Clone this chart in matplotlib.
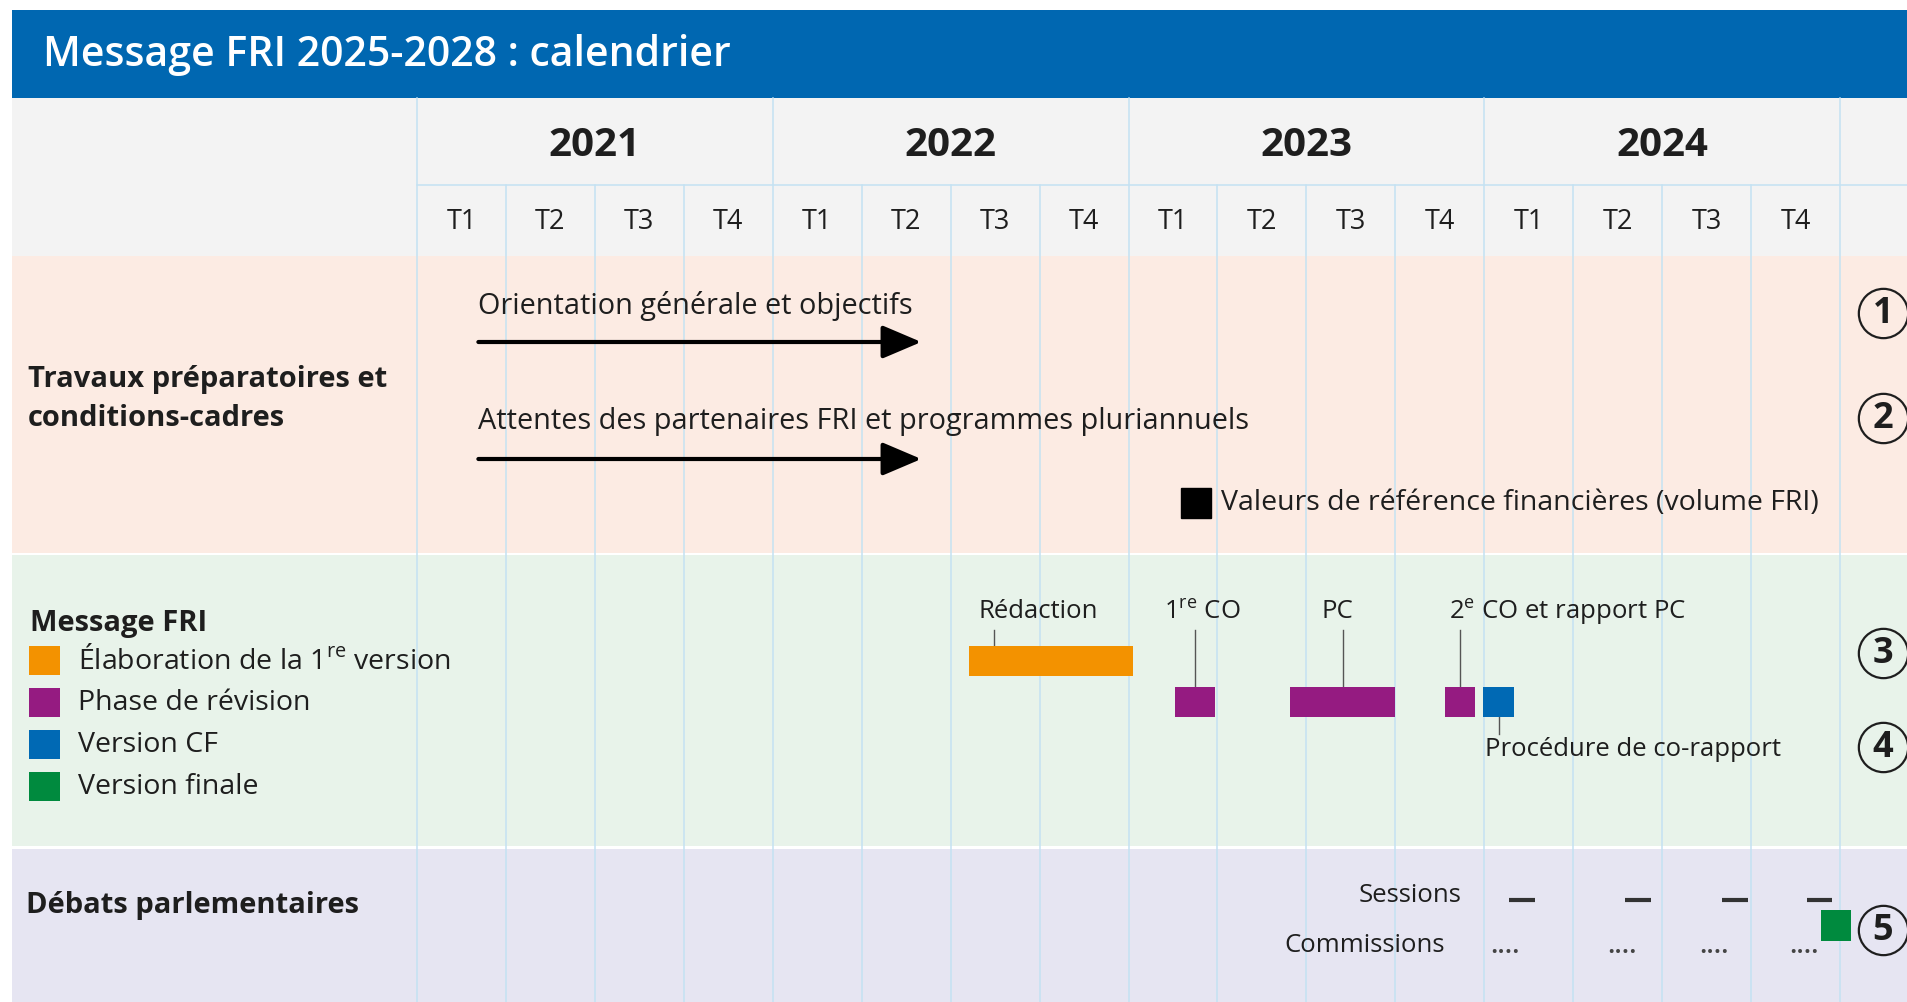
import matplotlib
matplotlib.use('Agg')
import matplotlib.pyplot as plt
from matplotlib.patches import Rectangle

plt.rcParams['font.family'] = ['Open Sans', 'DejaVu Sans']
plt.rcParams['mathtext.fontset'] = 'custom'
plt.rcParams['mathtext.rm'] = 'Open Sans'
plt.rcParams['mathtext.bf'] = 'Open Sans:bold'

# ---- data (x in quarters from 2021 T1) ----
title = 'Message FRI 2025-2028 : calendrier'
years = [2021, 2022, 2023, 2024]
quarters = ['T1', 'T2', 'T3', 'T4']

section_labels = ['Travaux préparatoires et\nconditions-cadres', 'Message FRI', 'Débats parlementaires']

arrow_labels = ['Orientation générale et objectifs',
                'Attentes des partenaires FRI et programmes pluriannuels']
arrow_start = [0.69, 0.69]
arrow_end = [5.67, 5.67]

ref_label = 'Valeurs de référence financières (volume FRI)'
ref_pos = 8.76

phase_names = ['Élaboration de la 1$^{\\mathrm{re}}$ version', 'Phase de révision',
               'Version CF', 'Version finale']
phase_colors = ['#f39200', '#951b81', '#0069b4', '#008a3e']

bar_start = [6.21, 8.52, 9.82, 11.56, 11.99]
bar_end = [8.05, 8.97, 11.00, 11.90, 12.33]
bar_phase = [0, 1, 1, 1, 2]
bar_label = ['Rédaction', '1$^{\\mathrm{re}}$ CO', 'PC',
             '2$^{\\mathrm{e}}$ CO et rapport PC', 'Procédure de co-rapport']

sessions = [12.42, 13.73, 14.82, 15.77]
commissions = [12.23, 13.55, 14.58, 15.60]
final_start, final_end = 15.79, 16.12

circle_nums = ['1', '2', '3', '4', '5']

# ---- layout (pixels) ----
W, H = 1908, 1002
X0, Q = 417, 88.94


def u(px):
    return (px - X0) / Q


TXT = '#1e1e1e'
GRID = '#c4e2f2'

fig = plt.figure(figsize=(W / 100, H / 100), dpi=100)
ax = fig.add_axes([0, 0, 1, 1])
ax.set_xlim(u(0), u(W))
ax.set_ylim(H, 0)
ax.axis('off')

L = u(12)
R = u(W)
# backgrounds
ax.add_patch(Rectangle((L, 10), R - L, 88, color='#0067b1', lw=0))
ax.add_patch(Rectangle((L, 98), R - L, 158, color='#f3f3f3', lw=0))
ax.add_patch(Rectangle((L, 256), R - L, 297, color='#fcebe3', lw=0))
ax.add_patch(Rectangle((L, 555), R - L, 291, color='#e8f3ea', lw=0))
ax.add_patch(Rectangle((L, 849), R - L, H - 849, color='#e6e5f2', lw=0))

ax.text(u(43), 55, title, color='white', fontsize=29.5, fontweight='semibold',
        va='center', ha='left')

# grid
for k in range(17):
    top = 98 if k % 4 == 0 else 185
    ax.plot([k, k], [top, H], color=GRID, lw=1.1, zorder=1)
ax.plot([0, R], [185, 185], color=GRID, lw=1.1, zorder=1)

for i, y in enumerate(years):
    ax.text(4 * i + 2, 145, str(y), fontsize=29, fontweight='bold', color=TXT,
            ha='center', va='center')
for i in range(16):
    ax.text(i + 0.5, 222, quarters[i % 4], fontsize=19.5, color=TXT,
            ha='center', va='center')

# section labels
ax.text(u(28), 399, section_labels[0], fontsize=21, fontweight='bold', color=TXT,
        ha='left', va='center', linespacing=1.45)
ax.text(u(30), 623, section_labels[1], fontsize=21, fontweight='bold', color=TXT,
        ha='left', va='center')
ax.text(u(26), 905, section_labels[2], fontsize=21, fontweight='bold', color=TXT,
        ha='left', va='center')

# arrows
for lab, s, e, ty, ay in zip(arrow_labels, arrow_start, arrow_end, [306, 421], [342, 459]):
    ax.text(s, ty, lab, fontsize=20.8, color=TXT, ha='left', va='center')
    ax.annotate('', xy=(e, ay), xytext=(s, ay),
                arrowprops=dict(arrowstyle='-|>,head_length=0.4,head_width=0.17',
                                lw=3, color='black', mutation_scale=60,
                                shrinkA=0, shrinkB=0))

# reference square
ax.plot([ref_pos], [503], marker='s', ms=22, color='black', ls='none')
ax.text(u(1221), 503, ref_label, fontsize=20.5, color=TXT, ha='left', va='center')

# legend
for i, (name, c) in enumerate(zip(phase_names, phase_colors)):
    yc = 661 + i * 42
    ax.add_patch(Rectangle((u(29), yc - 15), 31 / Q, 29, color=c, lw=0))
    ax.text(u(78), yc, name, fontsize=20.5, color=TXT, ha='left', va='center')

# bars with leaders
label_dx = [-0.18, -0.35, -0.24, -0.13, -0.15]
for i, (s, e, p, lab) in enumerate(zip(bar_start, bar_end, bar_phase, bar_label)):
    top = 646 if p == 0 else 687
    ax.add_patch(Rectangle((s, top), e - s, 30, color=phase_colors[p], lw=0, zorder=3))
    lx = s + 0.28 if p == 0 else (s + e) / 2
    if p == 2:
        ax.plot([lx, lx], [top + 30, 734], color='#555555', lw=1)
        ax.text(lx + label_dx[i], 749, lab, fontsize=18.5, color=TXT, ha='left', va='center')
    else:
        ax.plot([lx, lx], [630, top], color='#555555', lw=1)
        ax.text(lx + label_dx[i], 612, lab, fontsize=18.5, color=TXT, ha='left', va='center')

# parliament
ax.text(u(1462), 895, 'Sessions', fontsize=18.5, color=TXT, ha='right', va='center')
ax.text(u(1445), 945, 'Commissions', fontsize=18.5, color=TXT, ha='right', va='center')
for s in sessions:
    ax.plot([s - 0.145, s + 0.145], [900, 900], color='#333333', lw=3, solid_capstyle='butt')
for c in commissions:
    ax.text(c, 953, '....', fontsize=19, fontweight='semibold', color='#444444',
            ha='center', va='baseline')
ax.add_patch(Rectangle((final_start, 910), final_end - final_start, 31,
                       color=phase_colors[3], lw=0, zorder=3))

# circled numbers
for n, yc in zip(circle_nums, [313, 418, 653, 747, 930]):
    ax.plot([u(1883)], [yc], marker='o', ms=35.5, mfc='none', mec='#1e1e1e', mew=1.6)
    ax.text(u(1883), yc + 1, n, fontsize=26, fontweight='bold', color=TXT,
            ha='center', va='center')

fig.savefig('out.png', dpi=100)
